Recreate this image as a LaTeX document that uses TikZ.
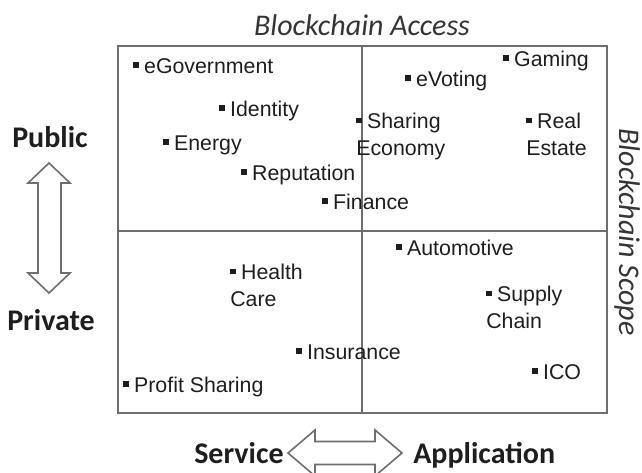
\documentclass[tikz,border=0pt]{standalone}
\usepackage{fontspec}
\setmainfont{Liberation Sans}
\newfontfamily\headfont{Carlito}
\definecolor{frame}{HTML}{6E6E6E}
\definecolor{ink}{HTML}{1E1E1E}
\newcommand\sqbul{\rule[0.25em]{0.25em}{0.25em}\hspace{0.26em}}

\begin{document}
\begin{tikzpicture}[x=0.75pt,y=-0.75pt,
    item/.style={inner sep=0pt,anchor=base west,align=left,text=ink,font=\fontsize{16}{20}\selectfont},
    head/.style={inner sep=0pt,text=ink,font=\headfont\fontsize{22.5}{27}\selectfont\bfseries},
    axis/.style={inner sep=0pt,text=ink!90,font=\headfont\fontsize{22.5}{27}\selectfont\itshape},
    hollow/.style={draw=frame,line width=1.2,fill=white,line join=miter}]
  \useasboundingbox (0,0) rectangle (642,472);
  \draw [frame,line width=1.5] (118,46) rectangle (607,413);
  \draw [frame,line width=1.5] (362,46) -- (362,413);
  \draw [frame,line width=1.5] (118,231) -- (607,231);
  \draw [hollow] (49,163) -- (70,183) -- (61,183) -- (61,273) -- (70,273) -- (49,293)
    -- (28,273) -- (38,273) -- (38,183) -- (28,183) -- cycle;
  \draw [hollow] (288,453) -- (315,430) -- (315,441.5) -- (375,441.5) -- (375,430) -- (402,453)
    -- (375,476) -- (375,464.5) -- (315,464.5) -- (315,476) -- cycle;
  \node [axis] (access) at (362,25) {Blockchain Access};
  \node [axis,rotate=-90] (scope) at (627,232) {Blockchain Scope};
  \node [head,anchor=base] (public) at (50,147) {Public};
  \node [head,anchor=base] (private) at (51,330) {Private};
  \node [head,anchor=base east] (service) at (284,463) {Service};
  \node [head,anchor=base west] (application) at (413,463) {Application};
  \node [item] (egov) at (133,73) {\sqbul eGovernment};
  \node [item] (identity) at (219,116) {\sqbul Identity};
  \node [item] (energy) at (163,150) {\sqbul Energy};
  \node [item] (reputation) at (241,180) {\sqbul Reputation};
  \node [item] (finance) at (322,209) {\sqbul Finance};
  \node [item] (sharing) at (356,155) {\sqbul Sharing\\Economy};
  \node [item] (evoting) at (405,86) {\sqbul eVoting};
  \node [item] (gaming) at (503,66) {\sqbul Gaming};
  \node [item] (realestate) at (526,155) {\sqbul Real\\Estate};
  \node [item] (automotive) at (396,255) {\sqbul Automotive};
  \node [item] (health) at (230,306) {\sqbul Health\\Care};
  \node [item] (supply) at (486,328) {\sqbul Supply\\Chain};
  \node [item] (insurance) at (296,359) {\sqbul Insurance};
  \node [item] (ico) at (532,379) {\sqbul ICO};
  \node [item] (profit) at (123,392) {\sqbul Profit Sharing};
\end{tikzpicture}
\end{document}
